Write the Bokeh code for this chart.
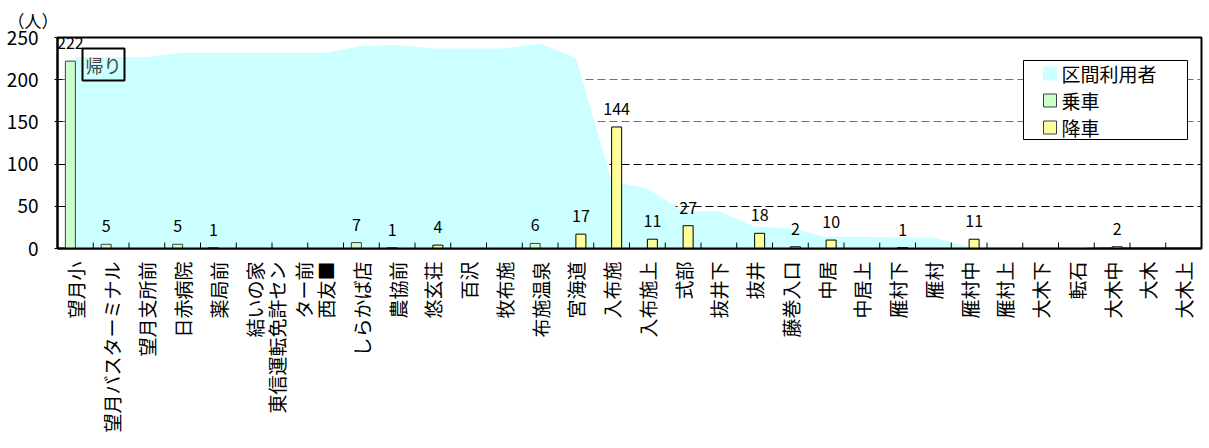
import math
from bokeh.plotting import figure
from bokeh.models import (ColumnDataSource, FactorRange, Range1d, Label, BoxAnnotation,
                          Grid, FixedTicker)
from bokeh.transform import dodge
from bokeh.core.properties import value
from bokeh.embed import file_html
from bokeh.resources import INLINE

# ---- data ----
stops = ["望月小", "望月バスターミナル", "望月支所前", "日赤病院", "薬局前", "結いの家",
         "東信運転免許セン\nター前", "西友■", "しらかば店", "農協前", "悠玄荘", "百沢",
         "牧布施", "布施温泉", "宮海道", "入布施", "入布施上", "式部", "抜井下", "抜井",
         "藤巻入口", "中居", "中居上", "雁村下", "雁村", "雁村中", "雁村上", "大木下",
         "転石", "大木中", "大木", "大木上"]
boarding = [222, 5, 0, 5, 1, 0, 0, 0, 7, 1, 0, 0, 0, 6, 0, 0,
            0, 0, 0, 0, 0, 0, 0, 0, 0, 0, 0, 0, 0, 0, 0, 0]
alighting = [0, 0, 0, 0, 0, 0, 0, 0, 0, 0, 4, 0, 0, 0, 17, 144,
             11, 27, 0, 18, 2, 10, 0, 1, 0, 11, 0, 0, 0, 2, 0, 0]
section_users = [227, 227, 227, 232, 232, 232, 232, 232, 240, 241, 237, 237, 237, 243, 226, 80,
                 71, 44, 44, 26, 24, 14, 14, 13, 13, 2, 2, 2, 2, 0, 0, 0]
y_ticks = [0, 50, 100, 150, 200, 250]
legend_labels = ["区間利用者", "乗車", "降車"]

JP = "Noto Sans CJK JP"
AREA_C, ON_C, OFF_C = "#CCFFFF", "#CCFFCC", "#FFFF99"

src = ColumnDataSource(dict(stop=stops, on=boarding, off=alighting, load=section_users))
on_src = ColumnDataSource(dict(
    stop=[s for s, v in zip(stops, boarding) if v > 0],
    v=[v for v in boarding if v > 0],
    t=[str(v) for v in boarding if v > 0]))
off_src = ColumnDataSource(dict(
    stop=[s for s, v in zip(stops, alighting) if v > 0],
    v=[v for v in alighting if v > 0],
    t=[str(v) for v in alighting if v > 0]))

p = figure(width=1209, height=448, x_range=FactorRange(*stops), y_range=Range1d(0, 250),
           output_backend="svg", toolbar_location=None,
           min_border_left=57, min_border_right=8, min_border_top=37, min_border_bottom=200)

p.title.text = "（人）"
p.title.align = "left"
p.title.offset = -50
p.title.standoff = 9
p.title.text_font = JP
p.title.text_font_size = "17px"
p.title.text_font_style = "normal"
p.title.text_color = "black"

p.outline_line_color = "black"
p.outline_line_width = 2
p.background_fill_color = "white"

# area
p.varea(x="stop", y1=0, y2="load", source=src, fill_color=AREA_C)

# bars
p.vbar(x=dodge("stop", -0.14, range=p.x_range), top="on", width=0.28, source=src,
       fill_color=ON_C, line_color="#404040", line_width=1)
p.vbar(x=dodge("stop", 0.14, range=p.x_range), top="off", width=0.28, source=src,
       fill_color=OFF_C, line_color="black", line_width=1)

# category boundary ticks
p.segment(x0=dodge("stop", 0.5, range=p.x_range), y0=0,
          x1=dodge("stop", 0.5, range=p.x_range), y1=7, source=src,
          line_color="black", line_width=1)

# value labels
p.text(x=dodge("stop", -0.14, range=p.x_range), y="v", text="t", source=on_src,
       text_align="center", text_baseline="alphabetic", y_offset=-18,
       text_font=value(JP), text_font_size="16px", text_color="black")
p.text(x=dodge("stop", 0.14, range=p.x_range), y="v", text="t", source=off_src,
       text_align="center", text_baseline="alphabetic", y_offset=-18,
       text_font=value(JP), text_font_size="16px", text_color="black")

# grid
p.xgrid.grid_line_color = None
p.ygrid.grid_line_color = "black"
p.ygrid.grid_line_dash = "8 4"
p.ygrid.grid_line_width = 1
p.ygrid.ticker = [50, 100]
p.add_layout(Grid(dimension=1, ticker=FixedTicker(ticks=[150, 200]),
                  grid_line_color="#707070", grid_line_dash="8 4", grid_line_width=1))

# axes
p.yaxis.ticker = y_ticks
p.yaxis.axis_line_width = 2
p.yaxis.axis_line_color = "black"
p.yaxis.major_tick_in = 5
p.yaxis.major_tick_out = 3
p.yaxis.minor_tick_line_color = None
p.yaxis.major_label_standoff = 16
p.yaxis.major_label_text_font = JP
p.yaxis.major_label_text_font_size = "19px"
p.yaxis.major_label_text_color = "black"

p.xaxis.axis_line_width = 2
p.xaxis.axis_line_color = "black"
p.xaxis.major_tick_line_color = None
p.xaxis.major_tick_out = 0
p.xaxis.major_tick_in = 0
p.xaxis.major_label_orientation = math.pi / 2
p.xaxis.major_label_standoff = 13
p.xaxis.major_label_text_font = JP
p.xaxis.major_label_text_font_size = "19px"
p.xaxis.major_label_text_line_height = 1.0
p.xaxis.major_label_text_color = "black"

# legend (drawn in frame screen units, y measured from frame bottom)
scr = dict(left_units="screen", right_units="screen", top_units="screen", bottom_units="screen")
p.add_layout(BoxAnnotation(left=966, right=1130, bottom=109, top=188,
                           fill_color="white", fill_alpha=1.0,
                           line_color="black", line_width=1, line_alpha=1.0, **scr))
sw_colors = [AREA_C, ON_C, OFF_C]
sw_lines = [None, "#404040", "#404040"]
for i, (lab, fc, lc) in enumerate(zip(legend_labels, sw_colors, sw_lines)):
    cy = 175 - 27 * i
    p.add_layout(BoxAnnotation(left=986, right=999, bottom=cy - 6.5, top=cy + 6.5,
                               fill_color=fc, fill_alpha=1.0,
                               line_color=lc if lc else fc, line_width=1, line_alpha=1.0, **scr))
    p.add_layout(Label(x=1004, y=cy, x_units="screen", y_units="screen", text=lab,
                       text_align="left", text_baseline="middle", text_font=JP,
                       text_font_size="19px", text_color="black"))

# annotation
p.add_layout(Label(x=25, y=200, x_units="screen", y_units="screen", text="帰り",
                   text_align="left", text_baseline="top", text_font=JP,
                   text_font_size="18px", padding=3, border_line_color="black",
                   border_line_width=2))

open("out.html", "w").write(file_html(p, INLINE))
